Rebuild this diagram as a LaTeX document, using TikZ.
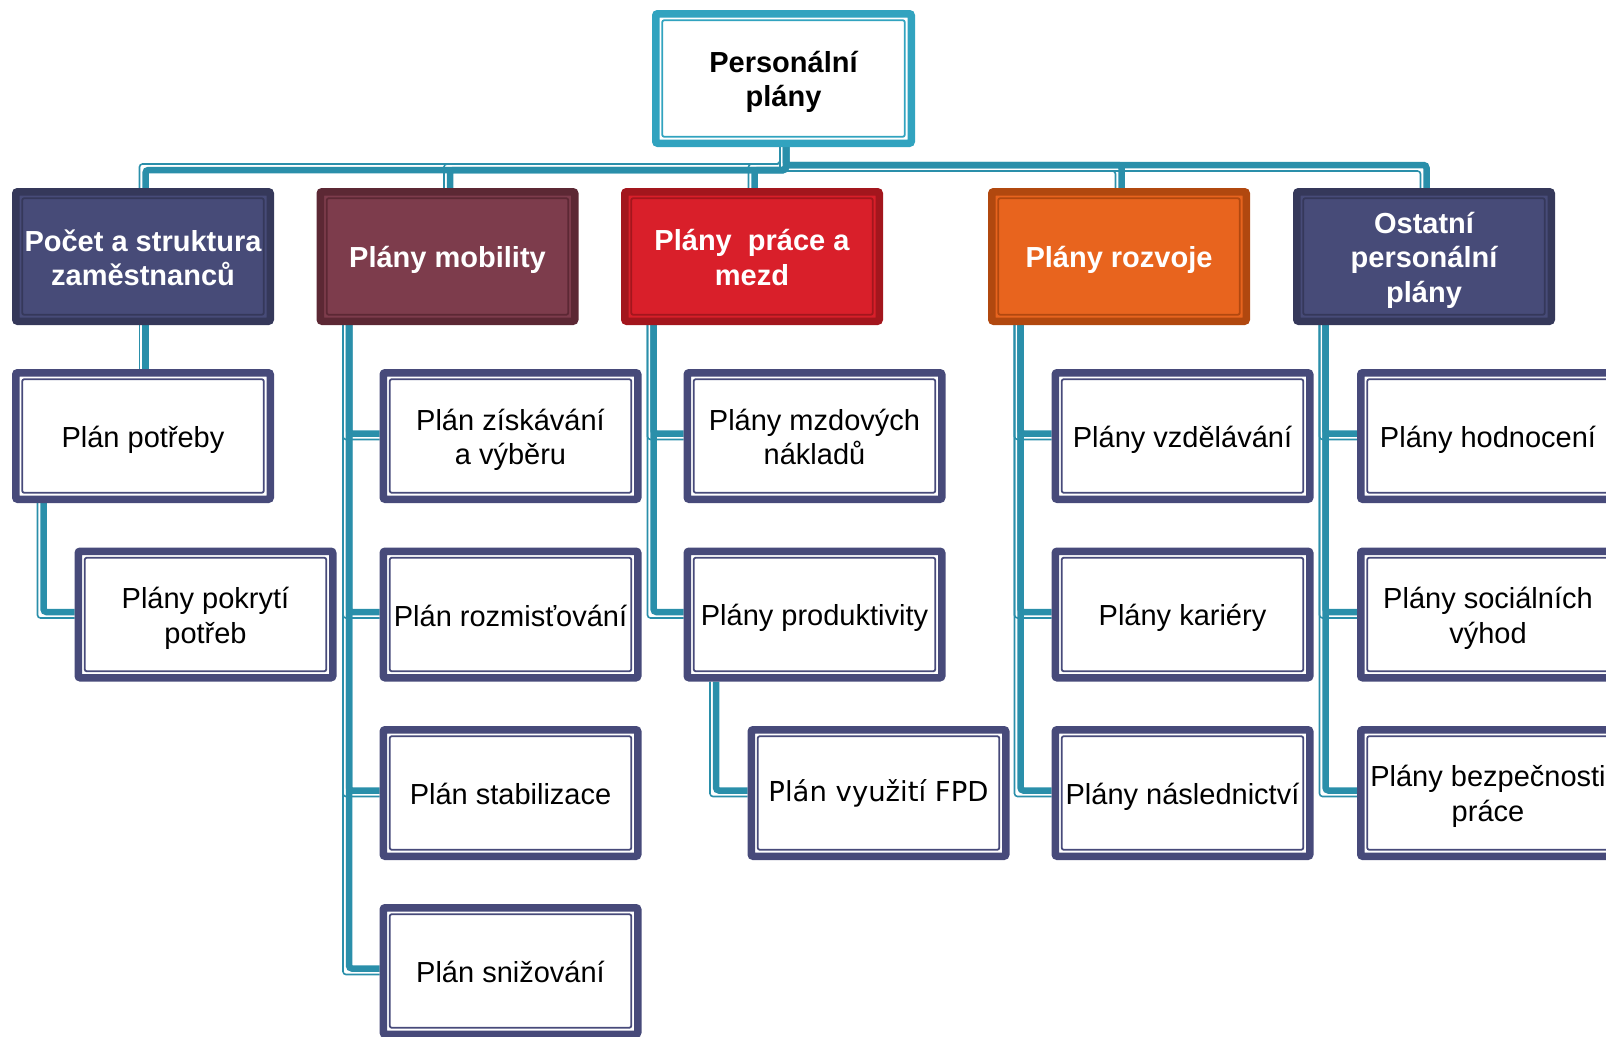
\documentclass[tikz,border=0pt]{standalone}
\usepackage{fontspec}
\setmainfont{Liberation Sans}
\newfontfamily\dejavu{DejaVu Sans}
\usetikzlibrary{calc,backgrounds}
\definecolor{navy}{HTML}{474B78}
\definecolor{navyD}{HTML}{35385A}
\definecolor{maroon}{HTML}{7D3C4C}
\definecolor{maroonD}{HTML}{5C2834}
\definecolor{hred}{HTML}{D91F2A}
\definecolor{hredD}{HTML}{A3161D}
\definecolor{horange}{HTML}{E8641E}
\definecolor{horangeD}{HTML}{B1480F}
\definecolor{rootteal}{HTML}{31A3BF}
\definecolor{conn}{HTML}{2A8FAA}
\definecolor{childB}{HTML}{474A7A}
\newcommand\boxtext[1]{{\setbox\strutbox\hbox{\vrule height 28.5pt depth 5.5pt width 0pt}%
  \begin{tabular}{@{}c@{}}#1\end{tabular}}}
\newcommand\conW[1]{%
  \draw[cthin] ($(R.south)+(-3.5,0)$) -- ($(R.south|-bus)+(-3.5,-3.5)$) -- ($(#1.north|-bus)+(-3.5,-3.5)$) -- ($(#1.north)+(-3.5,0)$);
  \draw[cthick] ($(R.south)+(2.5,0)$) -- ($(R.south|-bus)+(2.5,2.5)$) -- ($(#1.north|-bus)+(2.5,2.5)$) -- ($(#1.north)+(2.5,0)$);}
\newcommand\conE[1]{%
  \draw[cthin] ($(R.south)+(-3.5,0)$) -- ($(R.south|-bus)+(-3.5,3.5)$) -- ($(#1.north|-bus)+(-3.5,3.5)$) -- ($(#1.north)+(-3.5,0)$);
  \draw[cthick] ($(R.south)+(2.5,0)$) -- ($(R.south|-bus)+(2.5,-2.5)$) -- ($(#1.north|-bus)+(2.5,-2.5)$) -- ($(#1.north)+(2.5,0)$);}
\newcommand\conS[3]{%
  \draw[cthin] ($(#1.south west)+(#3-3.5,0)$) |- ($(#2.west)+(0,3.5)$);
  \draw[cthick] ($(#1.south west)+(#3+2.5,0)$) |- ($(#2.west)+(0,-2.5)$);}
\begin{document}
\begin{tikzpicture}[x=1pt,y=-1pt,
  box/.style={rectangle, rounded corners=2pt, line width=7.5pt, inner sep=0pt,
    minimum width=254.5pt},
  inl/.style={path picture={\draw[line width=1.8pt,#1]
      ($(path picture bounding box.north west)+(6.5,6.5)$) rectangle
      ($(path picture bounding box.south east)+(-6.5,-6.5)$);}},
  head/.style n args={2}{box, minimum height=129.5pt, fill=#1, draw=#2, inl=#2, text=white,
    font=\fontsize{29}{34}\selectfont\bfseries},
  child/.style={box, minimum height=126.5pt, fill=white, draw=childB, inl=childB, text=black,
    font=\fontsize{29}{34}\selectfont},
  rootbox/.style={box, minimum width=255.5pt, minimum height=129.5pt, fill=white, draw=rootteal, inl=rootteal,
    font=\fontsize{29}{34}\selectfont\bfseries},
  cthin/.style={draw=conn, line width=1.6pt, rounded corners=3pt},
  cthick/.style={draw=conn, line width=6.5pt, rounded corners=3pt}]
\useasboundingbox (0,0) rectangle (1606,1036);
\clip (0,0) rectangle (1606,1036);
% root
\node[rootbox] (R) at (783.5,78.5) {\boxtext{Personální\\plány}};
% level 1
\node[head={navy}{navyD}] (A) at (143,256.5) {\boxtext{Počet a struktura\\zaměstnanců}};
\node[head={maroon}{maroonD}] (B) at (447.5,256.5) {\boxtext{Plány mobility}};
\node[head={hred}{hredD}] (C) at (752,256.5) {\boxtext{Plány\ \ práce a\\mezd}};
\node[head={horange}{horangeD}] (D) at (1119,256.5) {\boxtext{Plány rozvoje}};
\node[head={navy}{navyD}] (E) at (1424,256.5) {\boxtext{Ostatní\\personální\\plány}};
% level 2
\node[child] (A1) at (143,436) {\boxtext{Plán potřeby}};
\node[child] (A2) at (205.5,614.5) {\boxtext{Plány pokrytí\\potřeb}};
\node[child] (B1) at (510.5,436) {\boxtext{Plán získávání\\a výběru}};
\node[child] (B2) at (510.5,614.5) {\boxtext{Plán rozmisťování}};
\node[child] (B3) at (510.5,793) {\boxtext{Plán stabilizace}};
\node[child] (B4) at (510.5,971) {\boxtext{Plán snižování}};
\node[child] (C1) at (814.5,436) {\boxtext{Plány mzdových\\nákladů}};
\node[child] (C2) at (814.5,614.5) {\boxtext{Plány produktivity}};
\node[child, font=\fontsize{27.5}{34}\dejavu] (C3) at (878.5,793) {\boxtext{\raisebox{2.8pt}{Plán využití FPD}}};
\node[child] (D1) at (1182.5,436) {\boxtext{Plány vzdělávání}};
\node[child] (D2) at (1182.5,614.5) {\boxtext{Plány kariéry}};
\node[child] (D3) at (1182.5,793) {\boxtext{Plány následnictví}};
\node[child] (E1) at (1488,436) {\boxtext{Plány hodnocení}};
\node[child] (E2) at (1488,614.5) {\boxtext{Plány sociálních\\výhod}};
\node[child] (E3) at (1488,793) {\boxtext{Plány bezpečnosti\\práce}};
\coordinate (bus) at (783.5,167.5);
\begin{pgfonlayer}{background}
  \conW{A}\conW{B}\conW{C}
  \conE{D}\conE{E}
  \draw[cthin] ($(A.south)+(-3.5,0)$) -- ($(A1.north)+(-3.5,0)$);
  \draw[cthick] ($(A.south)+(2.5,0)$) -- ($(A1.north)+(2.5,0)$);
  \conS{A1}{A2}{29}
  \conS{B}{B1}{30}\conS{B}{B2}{30}\conS{B}{B3}{30}\conS{B}{B4}{30}
  \conS{C}{C1}{30}\conS{C}{C2}{30}
  \conS{C2}{C3}{30}
  \conS{D}{D1}{30}\conS{D}{D2}{30}\conS{D}{D3}{30}
  \conS{E}{E1}{30}\conS{E}{E2}{30}\conS{E}{E3}{30}
\end{pgfonlayer}
\end{tikzpicture}
\end{document}
